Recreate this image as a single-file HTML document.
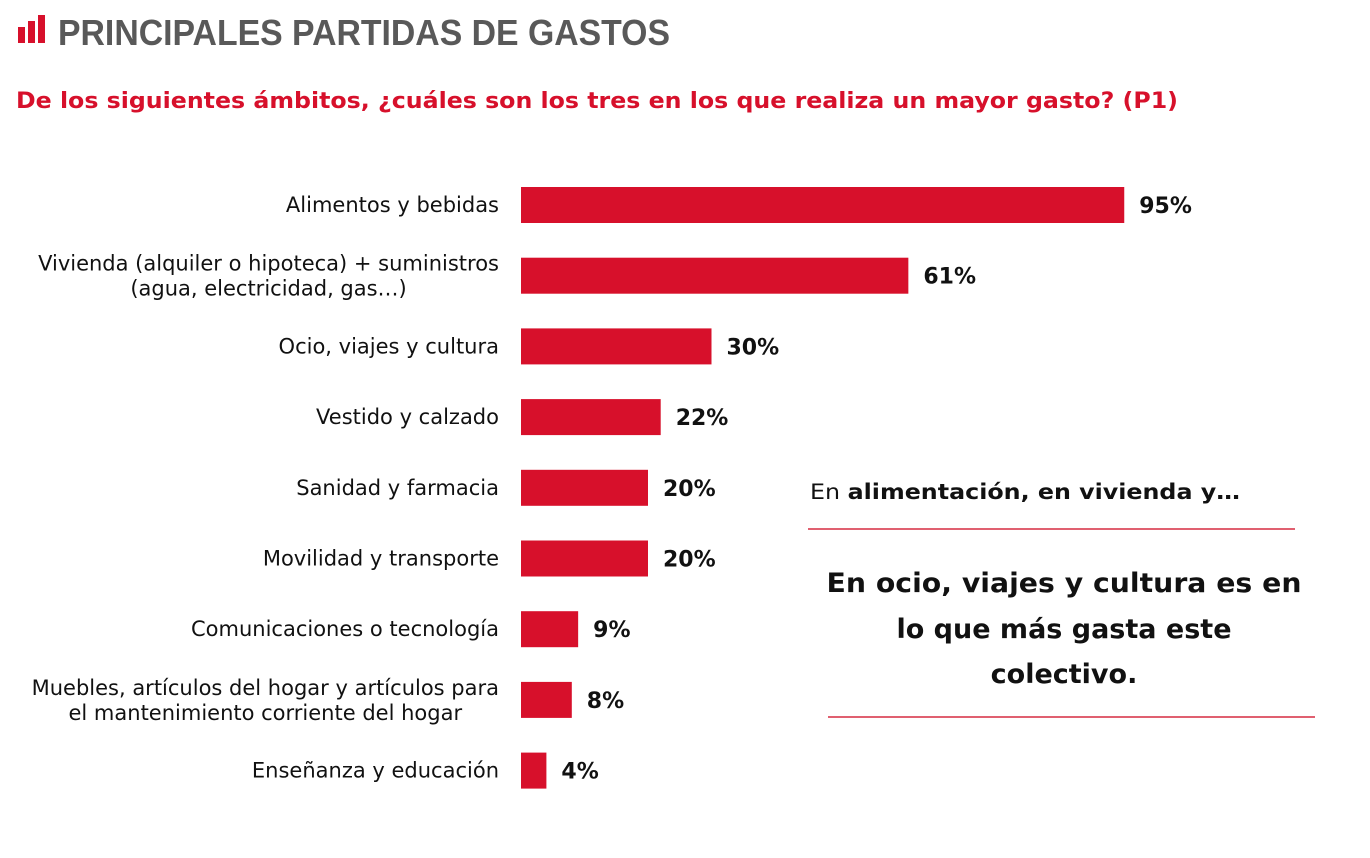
<!DOCTYPE html>
<html><head><meta charset="utf-8"><style>
body{margin:0;width:1370px;height:858px;background:#fff;font-family:"DejaVu Sans",sans-serif;overflow:hidden;position:relative}
.abs{position:absolute}
</style></head><body>
<div class="abs" style="left:18px;top:15px;width:30px;height:28px">
<div class="abs" style="left:0;top:12px;width:7px;height:16px;background:#d7102b"></div>
<div class="abs" style="left:10px;top:6px;width:7px;height:22px;background:#d7102b"></div>
<div class="abs" style="left:20px;top:0;width:7px;height:28px;background:#d7102b"></div>
</div>
<svg class="abs" style="left:0;top:0" width="1370" height="858" id="chart">
<text x="58" y="45" font-family="Liberation Sans, sans-serif" font-size="36" font-weight="bold" fill="#595959" textLength="612" lengthAdjust="spacingAndGlyphs">PRINCIPALES PARTIDAS DE GASTOS</text>
<text x="16" y="108" font-family="DejaVu Sans, sans-serif" font-size="22" font-weight="bold" fill="#d7102b" textLength="1162" lengthAdjust="spacingAndGlyphs">De los siguientes ámbitos, ¿cuáles son los tres en los que realiza un mayor gasto? (P1)</text>
<text x="810" y="499" font-family="DejaVu Sans, sans-serif" font-size="21" fill="#111" textLength="430" lengthAdjust="spacingAndGlyphs">En <tspan font-weight="bold">alimentación, en vivienda y…</tspan></text>
<rect x="808" y="528" width="487" height="2" fill="#e06070"/>
<g font-family="DejaVu Sans, sans-serif" font-size="27" font-weight="bold" fill="#111" text-anchor="middle">
<text x="1064" y="592" textLength="475" lengthAdjust="spacingAndGlyphs">En ocio, viajes y cultura es en</text>
<text x="1064" y="638">lo que más gasta este</text>
<text x="1064" y="683">colectivo.</text>
</g>
<rect x="828" y="716" width="487" height="2" fill="#e06070"/>
</svg>
<script>
const categories=[["Alimentos y bebidas"],["Vivienda (alquiler o hipoteca) + suministros","(agua, electricidad, gas…)"],["Ocio, viajes y cultura"],["Vestido y calzado"],["Sanidad y farmacia"],["Movilidad y transporte"],["Comunicaciones o tecnología"],["Muebles, artículos del hogar y artículos para","el mantenimiento corriente del hogar"],["Enseñanza y educación"]];
const values=[95,61,30,22,20,20,9,8,4];
const valueLabels=["95%","61%","30%","22%","20%","20%","9%","8%","4%"];
const svg=document.getElementById('chart');
const NS="http://www.w3.org/2000/svg";
const x0=521, pxPer=6.35;
function xs(v){return x0+v*pxPer;}
function yc(i){return 205+i*70.7;}
values.forEach((v,i)=>{
 const r=document.createElementNS(NS,'rect');
 r.setAttribute('x',x0);r.setAttribute('y',yc(i)-18);r.setAttribute('width',xs(v)-x0);r.setAttribute('height',36);r.setAttribute('fill','#d7102b');
 
 
 svg.appendChild(r);
 const t=document.createElementNS(NS,'text');
 t.setAttribute('x',xs(v)+15);t.setAttribute('y',yc(i)+8);t.setAttribute('font-size','22');t.setAttribute('font-weight','bold');t.setAttribute('fill','#111');t.setAttribute('font-family','DejaVu Sans, sans-serif');
 t.textContent=valueLabels[i];
 
 
 svg.appendChild(t);
 const lines=categories[i];
 const g=document.createElementNS(NS,'g');
 
 
 svg.appendChild(g);
 const texts=lines.map((ln,j)=>{
  const l=document.createElementNS(NS,'text');
  const off=lines.length===1?7:(j===0?-5:20);
  l.setAttribute('y',yc(i)+off);l.setAttribute('font-size','21');l.setAttribute('fill','#111');l.setAttribute('font-family','DejaVu Sans, sans-serif');
  l.textContent=ln;
  g.appendChild(l);
  return l;
 });
 const ws=texts.map(t=>t.getComputedTextLength());
 const maxW=Math.max(...ws);
 const cx=499-maxW/2;
 texts.forEach(t=>{t.setAttribute('x',cx);t.setAttribute('text-anchor','middle');});
});
</script>
</body></html>
